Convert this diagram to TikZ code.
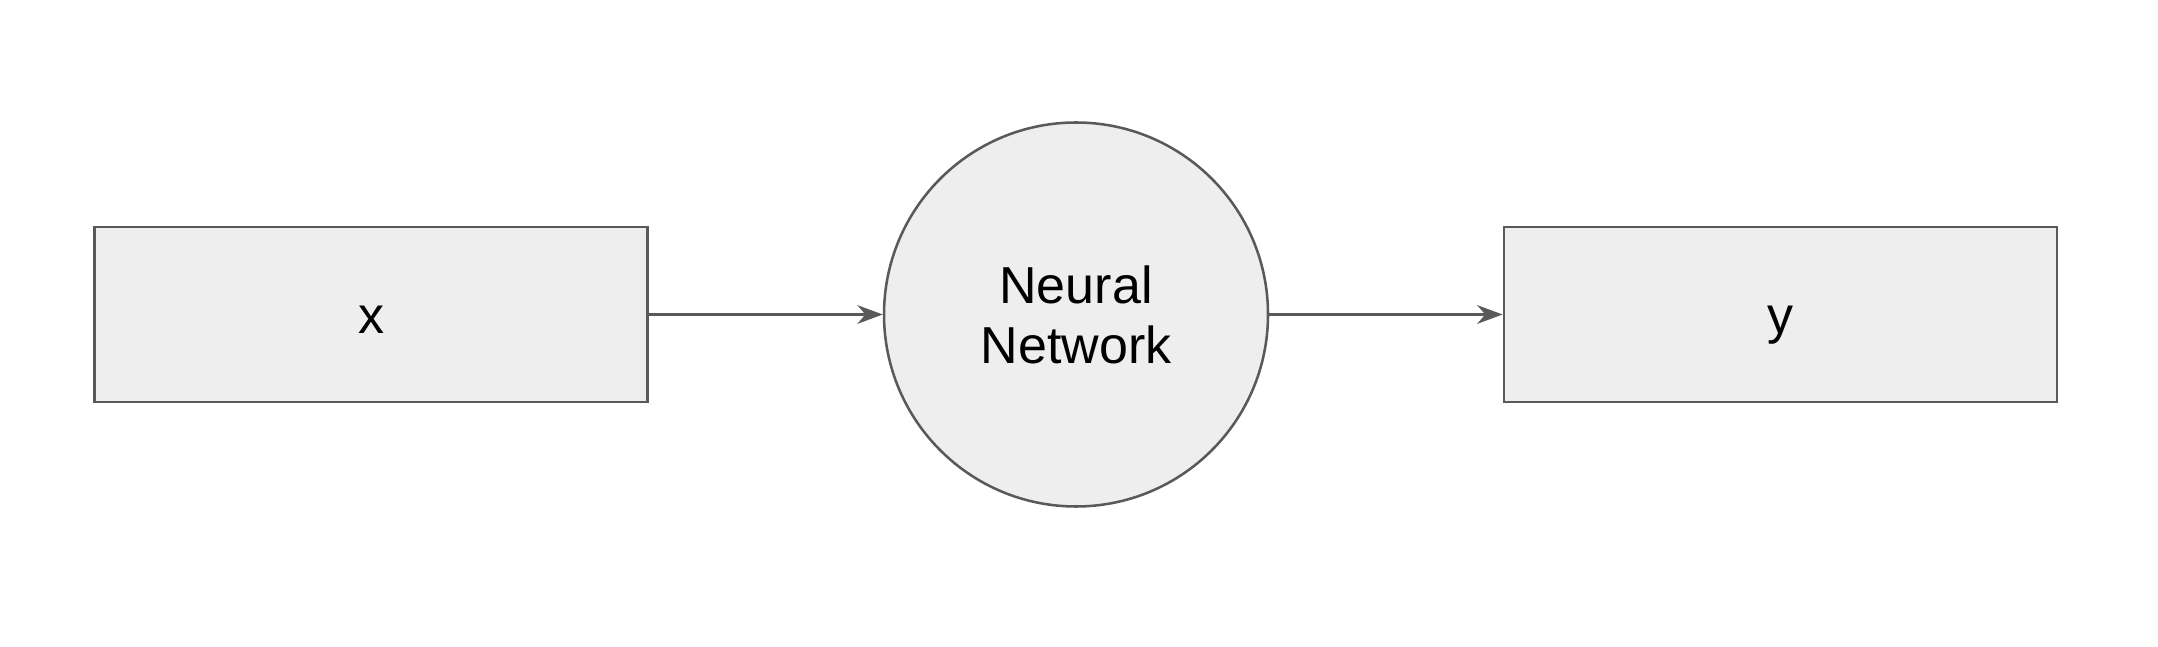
\documentclass[tikz,border=0pt]{standalone}
\usepackage{fontspec}
\setmainfont{Liberation Sans}
\usetikzlibrary{arrows.meta}
\definecolor{edgegray}{HTML}{595959}
\definecolor{boxfill}{HTML}{EEEEEE}
\tikzstyle{iobox} = [draw=edgegray, fill=boxfill, line width=1.9pt, rectangle, minimum width=415pt, minimum height=131pt, text height=29pt, text depth=0pt, font=\fontsize{39}{45}\selectfont]
\tikzstyle{netcircle} = [draw=edgegray, fill=boxfill, line width=1.9pt, circle, minimum size=288pt, inner sep=0pt, align=center, font=\fontsize{39}{45}\selectfont]
\tikzstyle{flow} = [draw=edgegray, line width=1.9pt, -{Stealth[length=19pt, width=14pt, inset=6pt]}]

\begin{document}
\begin{tikzpicture}[x=0.75pt, y=0.75pt]
\useasboundingbox (0,0) rectangle (2158,646);
\node [iobox] (input) at (371,331.5) {x};
\node [netcircle] (net) at (1076,331.5) {Neural\\Network};
\node [iobox] (output) at (1780.5,331.5) {y};
\draw [flow] (input) -- (net);
\draw [flow] (net) -- (output);
\end{tikzpicture}
\end{document}
